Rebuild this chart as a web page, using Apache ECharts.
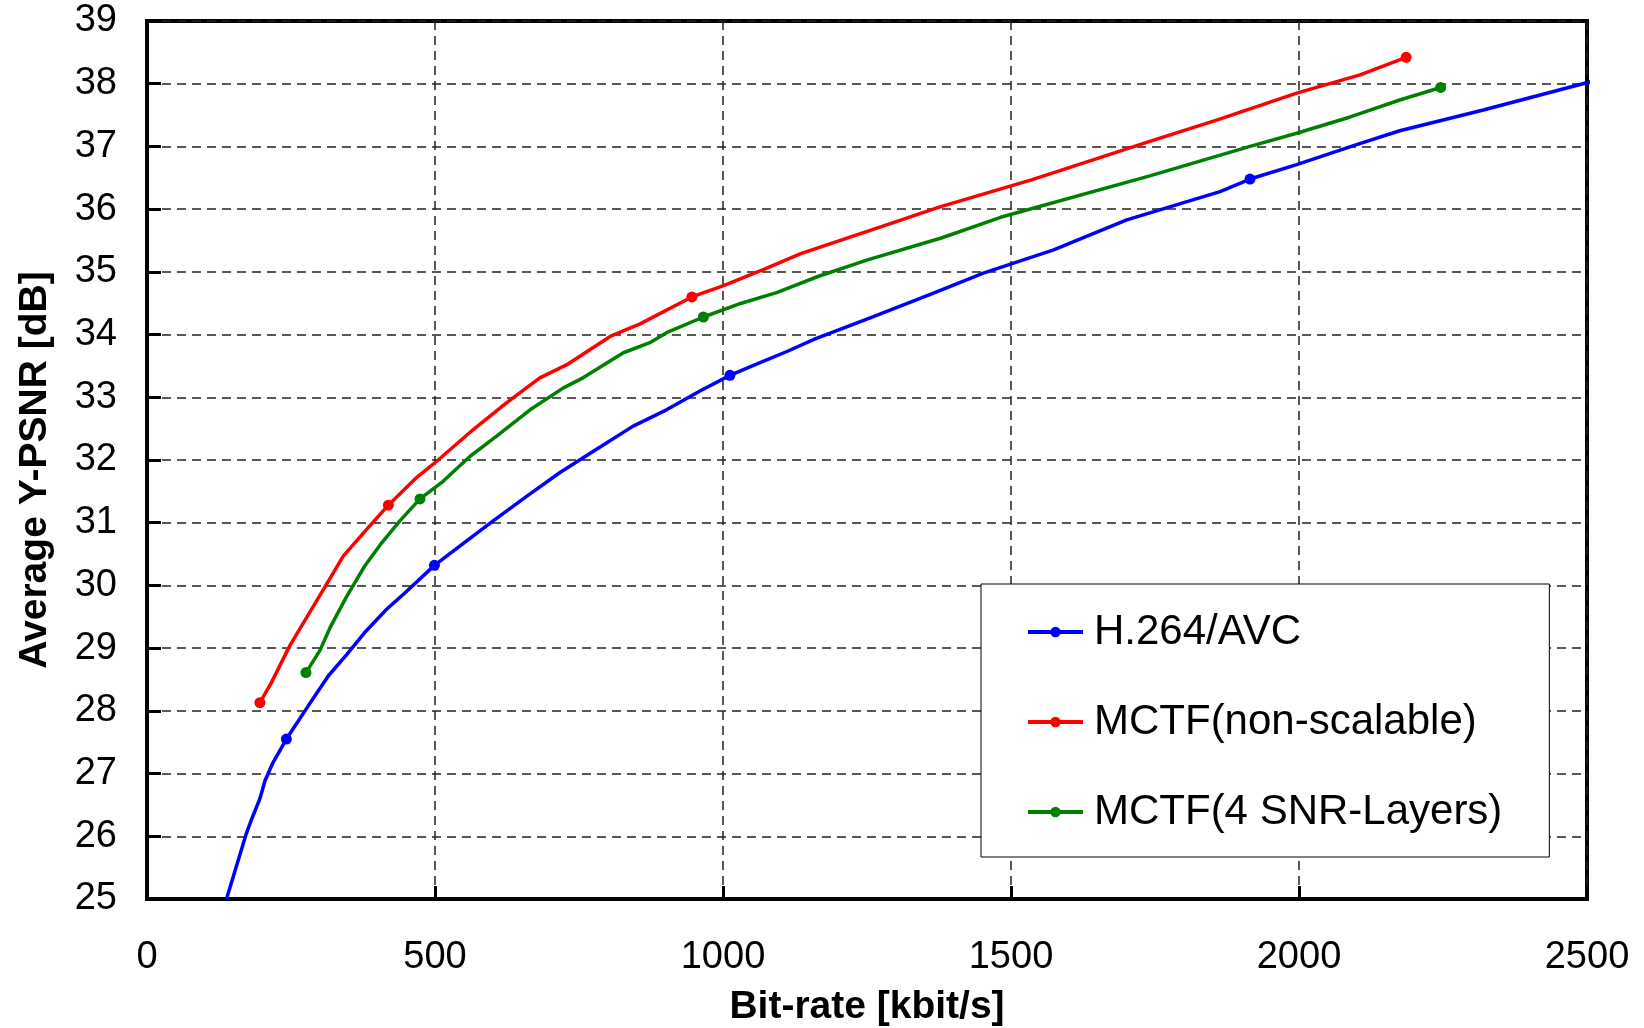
<!DOCTYPE html>
<html>
<head>
<meta charset="utf-8">
<script src="https://cdn.jsdelivr.net/npm/echarts@6/dist/echarts.min.js"></script>
<style>
html,body{margin:0;padding:0;background:#fff;}
#chart{width:1644px;height:1028px;}
</style>
</head>
<body>
<div id="chart"></div>
<script>
// Series names
var seriesNames = ['H.264/AVC', 'MCTF(non-scalable)', 'MCTF(4 SNR-Layers)'];

// H.264/AVC curve points [bit-rate, PSNR]
var h264Points = [[138,25.0],[173,26.06],[182,26.28],[196,26.6],[205,26.89],[219,27.18],[242,27.55],[280,28.08],[315,28.56],[347,28.9],[380,29.27],[416,29.62],[450,29.9],[499,30.32],[555,30.71],[601,31.03],[659,31.42],[717,31.8],[775,32.14],[844,32.54],[902,32.8],[960,33.1],[1012,33.35],[1056,33.52],[1111,33.73],[1160,33.93],[1251,34.25],[1360,34.64],[1452,34.98],[1574,35.35],[1701,35.83],[1863,36.28],[1915,36.48],[1996,36.71],[2100,37.03],[2175,37.25],[2320,37.58],[2518,38.06]];
var h264Marks = [6, 13, 22, 32];

// MCTF (non-scalable) curve points
var mctfPoints = [[196,28.13],[216,28.45],[248,29.04],[289,29.67],[341,30.47],[381,30.89],[419,31.28],[468,31.72],[503,31.98],[567,32.49],[624,32.91],[682,33.31],[729,33.52],[804,33.97],[856,34.17],[946,34.6],[1001,34.78],[1074,35.05],[1135,35.29],[1275,35.72],[1378,36.04],[1537,36.47],[1741,37.08],[1857,37.42],[1996,37.85],[2106,38.14],[2186,38.42]];
var mctfMarks = [0, 6, 15, 26];

// MCTF (4 SNR-Layers) curve points
var snrPoints = [[276,28.61],[300,28.96],[318,29.33],[347,29.83],[378,30.31],[405,30.65],[439,31.03],[474,31.38],[514,31.66],[561,32.06],[607,32.38],[665,32.8],[723,33.15],[757,33.31],[827,33.71],[873,33.87],[902,34.03],[966,34.28],[1032,34.5],[1093,34.67],[1166,34.93],[1251,35.19],[1379,35.54],[1482,35.87],[1741,36.53],[1915,37.0],[1996,37.21],[2089,37.47],[2175,37.74],[2246,37.94]];
var snrMarks = [0, 7, 17, 29];

// Axis settings
var xTicks = [0, 500, 1000, 1500, 2000, 2500];
var yTicks = [25, 26, 27, 28, 29, 30, 31, 32, 33, 34, 35, 36, 37, 38, 39];

var colors = ['#0000ff', '#ff0000', '#008000'];
var FONT = '"Liberation Sans", Arial, sans-serif';

function buildData(points, marks) {
  return points.map(function (p, i) {
    return { value: p, symbol: marks.indexOf(i) >= 0 ? 'circle' : 'none' };
  });
}

function mkSeries(idx, points, marks) {
  return {
    type: 'line',
    name: seriesNames[idx],
    data: buildData(points, marks),
    symbol: 'circle',
    symbolSize: 11,
    showSymbol: true,
    clip: false,
    smooth: false,
    lineStyle: { width: 3.5, color: colors[idx] },
    itemStyle: { color: colors[idx] },
    emphasis: { disabled: true },
    animation: false
  };
}

var chart = echarts.init(document.getElementById('chart'), null, { renderer: 'canvas' });
chart.setOption({
  backgroundColor: '#fff',
  animation: false,
  grid: {
    left: 147, right: 57, top: 21, bottom: 129,
    containLabel: false,
    outerBoundsMode: 'none',
    show: true, borderColor: '#000', borderWidth: 4, backgroundColor: 'transparent'
  },
  legend: {
    orient: 'vertical',
    left: 981, top: 584,
    padding: [23, 47, 20, 45],
    itemGap: 40,
    itemWidth: 55,
    itemHeight: 13,
    backgroundColor: '#fff',
    borderColor: '#000',
    borderWidth: 1,
    borderRadius: 0,
    lineStyle: { width: 4 },
    textStyle: { fontFamily: FONT, fontSize: 42, color: '#000', lineHeight: 50, padding: [0, 0, 0, 6] },
    data: seriesNames
  },
  xAxis: {
    type: 'value',
    min: xTicks[0], max: xTicks[xTicks.length - 1], interval: 500,
    name: 'Bit-rate [kbit/s]',
    nameLocation: 'middle',
    nameGap: 89,
    nameTextStyle: { fontFamily: FONT, fontSize: 39, fontWeight: 'bold', color: '#000' },
    axisLine: { show: true, onZero: false, lineStyle: { color: '#000', width: 4 } },
    axisTick: { show: true, inside: true, length: 13, lineStyle: { color: '#000', width: 3 } },
    axisLabel: { fontFamily: FONT, fontSize: 38, color: '#000', margin: 40, formatter: function (v) { return String(v); } },
    splitLine: { show: true, lineStyle: { color: '#222', width: 1.5, type: [9, 6] } }
  },
  yAxis: {
    type: 'value',
    min: yTicks[0], max: yTicks[yTicks.length - 1], interval: 1,
    name: 'Average Y-PSNR [dB]',
    nameLocation: 'middle',
    nameGap: 92,
    nameTextStyle: { fontFamily: FONT, fontSize: 39, fontWeight: 'bold', color: '#000', padding: [0, 20, 0, 0] },
    axisLine: { show: true, onZero: false, lineStyle: { color: '#000', width: 4 } },
    axisTick: { show: true, inside: true, length: 14, lineStyle: { color: '#000', width: 3 } },
    axisLabel: { fontFamily: FONT, fontSize: 38, color: '#000', margin: 30, formatter: function (v) { return String(v); } },
    splitLine: { show: true, lineStyle: { color: '#222', width: 1.5, type: [9, 6] } }
  },
  series: [
    mkSeries(0, h264Points, h264Marks),
    mkSeries(1, mctfPoints, mctfMarks),
    mkSeries(2, snrPoints, snrMarks)
  ]
});
</script>
</body>
</html>
